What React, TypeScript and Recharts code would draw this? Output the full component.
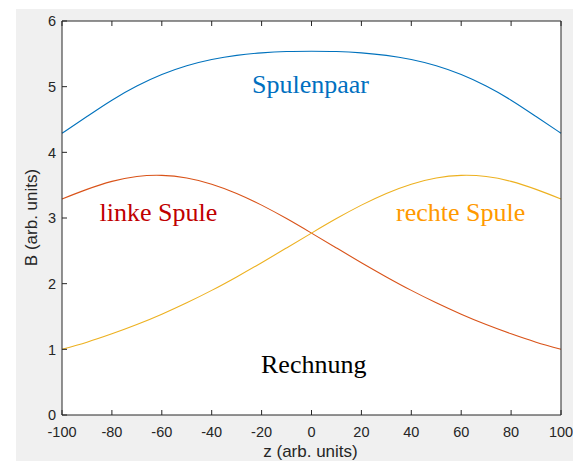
import React from 'react';
import { LineChart, Line, XAxis, YAxis, CartesianGrid } from 'recharts';

const zValues = [-100, -90, -80, -70, -60, -50, -40, -30, -20, -10, 0, 10, 20, 30, 40, 50, 60, 70, 80, 90, 100];
const linkeSpule = [3.29, 3.436, 3.558, 3.632, 3.649, 3.609, 3.515, 3.374, 3.196, 2.991, 2.77, 2.544, 2.319, 2.103, 1.898, 1.709, 1.535, 1.377, 1.236, 1.109, 1.0];
const rechteSpule = [1.0, 1.109, 1.236, 1.377, 1.535, 1.709, 1.898, 2.103, 2.319, 2.544, 2.77, 2.991, 3.196, 3.374, 3.515, 3.609, 3.649, 3.632, 3.558, 3.436, 3.29];
const spulenpaar = [4.29, 4.545, 4.794, 5.009, 5.184, 5.318, 5.413, 5.477, 5.515, 5.535, 5.54, 5.535, 5.515, 5.477, 5.413, 5.318, 5.184, 5.009, 4.794, 4.545, 4.29];
const xTicks = [-100, -80, -60, -40, -20, 0, 20, 40, 60, 80, 100];
const yTicks = [0, 1, 2, 3, 4, 5, 6];

const data = zValues.map((z, i) => ({
  z,
  paar: spulenpaar[i],
  links: linkeSpule[i],
  rechts: rechteSpule[i],
}));

if (typeof document !== 'undefined') {
  document.documentElement.style.overflow = 'hidden';
  document.body.style.overflow = 'hidden';
  document.body.style.margin = '0';
}

const AX = '#262626';
const SANS = '"Liberation Sans", Arial, Helvetica, sans-serif';
const SERIF = '"Liberation Serif", "Times New Roman", serif';

const BottomTick = (props: any) => {
  const { x, y, payload } = props;
  return (
    <g>
      <line x1={x} y1={y} x2={x} y2={y - 5} stroke={AX} strokeWidth={1} />
      <text x={x} y={y + 21.5} textAnchor="middle" fill={AX} fontSize={14.5} fontFamily={SANS}>
        {payload.value}
      </text>
    </g>
  );
};
const TopTick = (props: any) => {
  const { x, y } = props;
  return <line x1={x} y1={y} x2={x} y2={y + 5} stroke={AX} strokeWidth={1} />;
};
const LeftTick = (props: any) => {
  const { x, y, payload } = props;
  return (
    <g>
      <line x1={x} y1={y} x2={x + 5} y2={y} stroke={AX} strokeWidth={1} />
      <text x={x - 6} y={y + 5.2} textAnchor="end" fill={AX} fontSize={14.5} fontFamily={SANS}>
        {payload.value}
      </text>
    </g>
  );
};
const RightTick = (props: any) => {
  const { x, y } = props;
  return <line x1={x} y1={y} x2={x - 5} y2={y} stroke={AX} strokeWidth={1} />;
};

export default function App() {
  return (
    <div style={{ position: 'relative', width: 573, height: 461, overflow: 'hidden', background: '#ffffff' }}>
      <div style={{ position: 'absolute', left: 16, top: 9, width: 557, height: 452, background: '#f0f0f0' }}>
        <LineChart
          width={557}
          height={452}
          data={data}
          margin={{ top: 11, right: 11, bottom: 45, left: 45 }}
          style={{ overflow: 'visible' }}
        >
          <CartesianGrid horizontal={false} vertical={false} fill="#ffffff" stroke="none" xAxisId="b" yAxisId="l" />
          <XAxis
            xAxisId="b"
            dataKey="z"
            type="number"
            domain={[-100, 100]}
            ticks={xTicks}
            height={1}
            tickSize={0}
            tickMargin={0}
            tickLine={false}
            axisLine={{ stroke: AX, strokeWidth: 1 }}
            tick={<BottomTick />}
            interval={0}
          />
          <XAxis
            xAxisId="t"
            orientation="top"
            dataKey="z"
            type="number"
            domain={[-100, 100]}
            ticks={xTicks}
            height={1}
            tickSize={0}
            tickMargin={0}
            tickLine={false}
            axisLine={{ stroke: AX, strokeWidth: 1 }}
            tick={<TopTick />}
            interval={0}
          />
          <YAxis
            yAxisId="l"
            type="number"
            domain={[0, 6]}
            ticks={yTicks}
            width={1}
            tickSize={0}
            tickMargin={0}
            tickLine={false}
            axisLine={{ stroke: AX, strokeWidth: 1 }}
            tick={<LeftTick />}
            interval={0}
          />
          <YAxis
            yAxisId="r"
            orientation="right"
            type="number"
            domain={[0, 6]}
            ticks={yTicks}
            width={1}
            tickSize={0}
            tickMargin={0}
            tickLine={false}
            axisLine={{ stroke: AX, strokeWidth: 1 }}
            tick={<RightTick />}
            interval={0}
          />
          <Line xAxisId="b" yAxisId="l" type="natural" dataKey="paar" stroke="#0072BD" strokeWidth={1.1} dot={false} isAnimationActive={false} />
          <Line xAxisId="b" yAxisId="l" type="natural" dataKey="links" stroke="#D95319" strokeWidth={1.1} dot={false} isAnimationActive={false} />
          <Line xAxisId="b" yAxisId="l" type="natural" dataKey="rechts" stroke="#EDB120" strokeWidth={1.1} dot={false} isAnimationActive={false} />
        </LineChart>
        <svg
          width={557}
          height={452}
          style={{ position: 'absolute', left: 0, top: 0, pointerEvents: 'none' }}
        >
          <g transform="translate(-16,-9)">
            <text x={310.5} y={457} textAnchor="middle" fill={AX} fontSize={17} fontFamily={SANS}>
              z (arb. units)
            </text>
            <text
              x={0}
              y={0}
              transform="translate(37,217.5) rotate(-90)"
              textAnchor="middle"
              fill={AX}
              fontSize={17}
              fontFamily={SANS}
            >
              B (arb. units)
            </text>
            <text x={252} y={93} fill="#0070C0" fontSize={26} fontFamily={SERIF}>Spulenpaar</text>
            <text x={99.5} y={221} fill="#C00000" fontSize={26} fontFamily={SERIF}>linke Spule</text>
            <text x={396} y={221} fill="#FF9900" fontSize={26} fontFamily={SERIF}>rechte Spule</text>
            <text x={261} y={373} fill="#000000" fontSize={26} fontFamily={SERIF}>Rechnung</text>
          </g>
        </svg>
      </div>
    </div>
  );
}
